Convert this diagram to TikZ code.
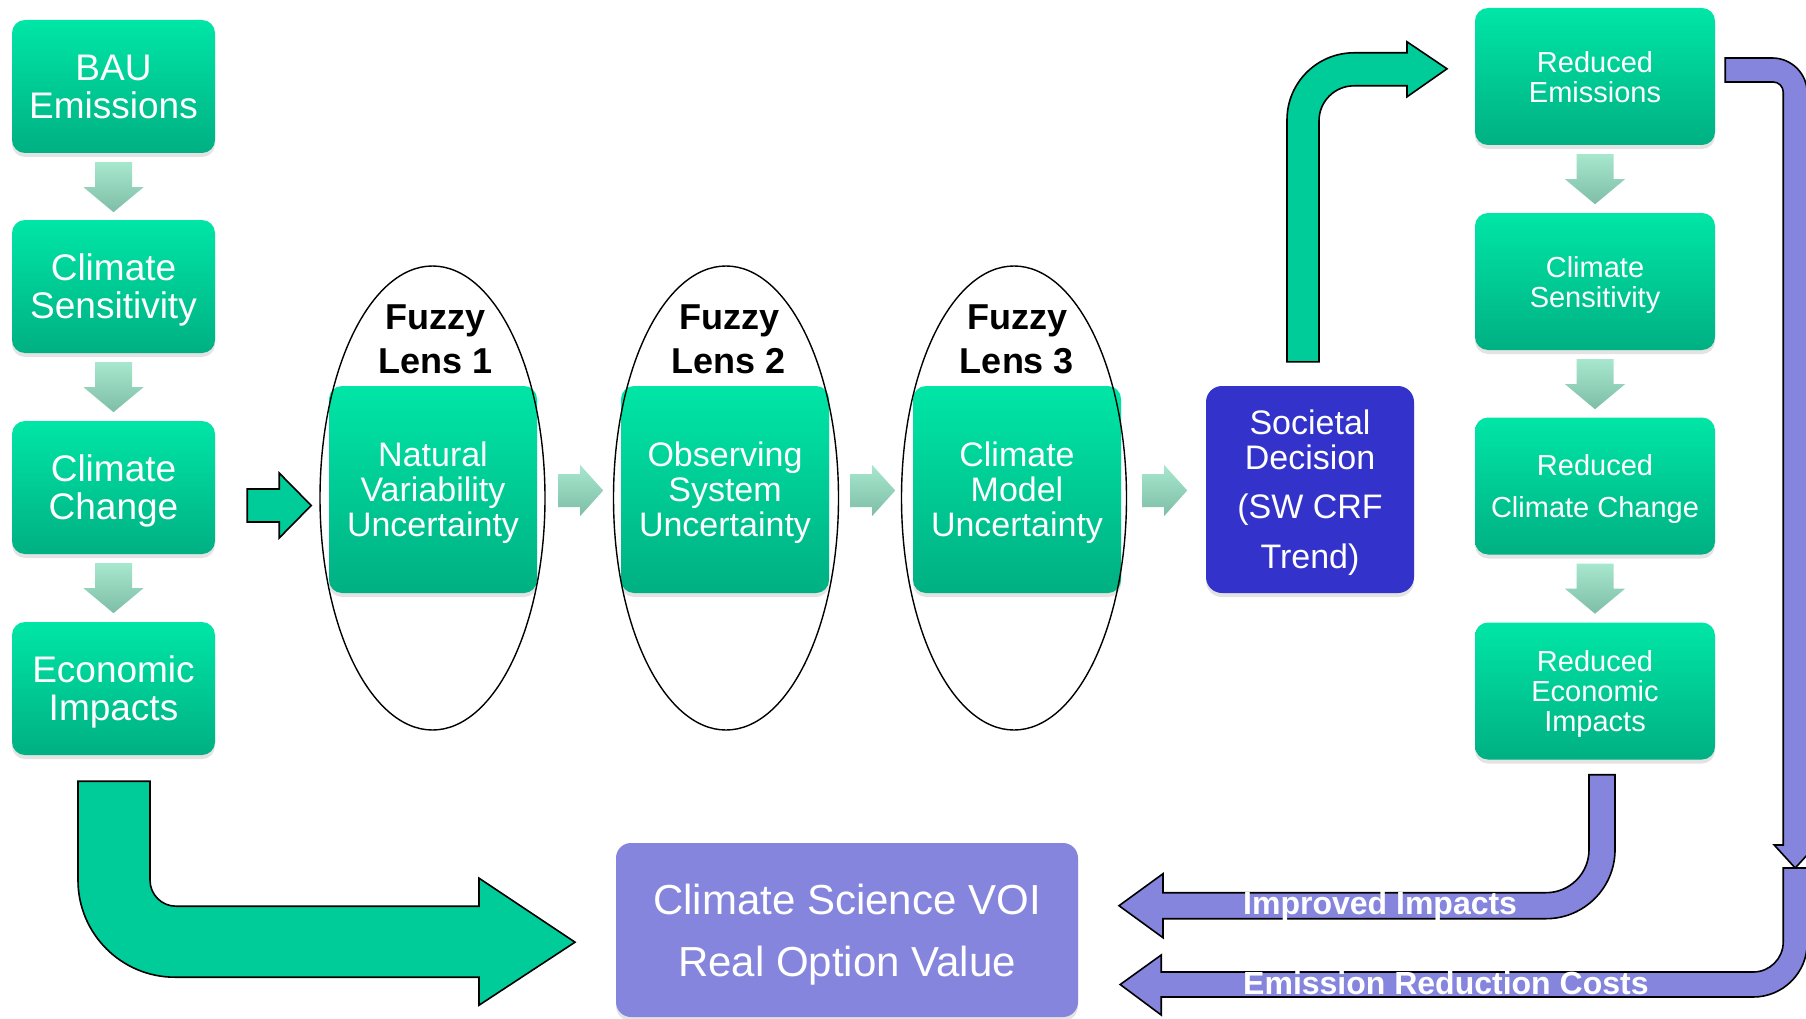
\documentclass[tikz,border=0pt]{standalone}
\usepackage{fontspec}
\setmainfont{Liberation Sans}
\usetikzlibrary{calc,shapes.geometric,shadows}
\definecolor{gtop}{RGB}{0,230,166}
\definecolor{gbot}{RGB}{0,176,130}
\definecolor{ltop}{RGB}{166,231,206}
\definecolor{lbot}{RGB}{126,190,166}
\definecolor{garrowc}{RGB}{0,204,153}
\definecolor{bluebox}{RGB}{51,51,204}
\definecolor{pcol}{RGB}{133,133,221}
\tikzset{
  gbox/.style={rectangle, rounded corners=13pt, top color=gtop, bottom color=gbot, draw=none,
    text=white, align=center, inner sep=0pt, text depth=0pt,
    drop shadow={opacity=0.22, shadow xshift=0pt, shadow yshift=-4pt}},
  bigtxt/.style={font=\fontsize{37pt}{38pt}\selectfont},
  midtxt/.style={font=\fontsize{34pt}{35pt}\selectfont},
  smalltxt/.style={font=\fontsize{29pt}{30pt}\selectfont},
  lcol/.style={gbox, bigtxt, minimum width=203pt, minimum height=133pt},
  rcol/.style={gbox, smalltxt, minimum width=240pt, minimum height=137pt},
  lensbox/.style={gbox, midtxt, minimum width=208pt, minimum height=207pt},
  lens/.style={draw=black, ellipse, line width=1.4pt, inner sep=0pt, minimum width=225pt, minimum height=464pt},
  lenstitle/.style={align=center, text depth=0pt, inner sep=0pt, font=\bfseries\fontsize{36pt}{44pt}\selectfont},
  lightarr/.style={top color=ltop, bottom color=lbot, draw=none},
  garrow/.style={fill=garrowc, draw=black, line width=1.6pt, line join=miter},
  parrow/.style={fill=pcol, draw=black, line width=1.6pt, line join=miter},
  arrlabel/.style={text=white, font=\bfseries\fontsize{32pt}{34pt}\selectfont, inner sep=0pt, anchor=base west},
  downarr/.pic={\path[lightarr] (-18.5,0) -- (18.5,0) -- (18.5,25) -- (30,25) -- (0,50) -- (-30,25) -- (-18.5,25) -- cycle;},
  rightarr/.pic={\path[lightarr] (0,-16.5) -- (22,-16.5) -- (22,-25.5) -- (45,0) -- (22,25.5) -- (22,16.5) -- (0,16.5) -- cycle;}
}
\begin{document}
\begin{tikzpicture}[x=1pt,y=-1pt]
\fill[white] (0,0) rectangle (1806,1019);
\useasboundingbox (0,0) rectangle (1806,1019);
\clip (0,0) rectangle (1806,1019);

% left column
\node[lcol] (bau) at (113.5,86.5) {BAU\\Emissions};
\node[lcol] (lcs) at (113.5,286.5) {Climate\\Sensitivity};
\node[lcol] (lcc) at (113.5,487.5) {Climate\\Change};
\node[lcol] (ei)  at (113.5,688.5) {Economic\\Impacts};
\pic at ($(bau.south)+(0,9)$) {downarr};
\pic at ($(lcs.south)+(0,9)$) {downarr};
\pic at ($(lcc.south)+(0,9)$) {downarr};

% lens boxes
\node[lensbox] (nv) at (433,489.5) {Natural\\Variability\\Uncertainty};
\node[lensbox] (os) at (725,489.5) {Observing\\System\\Uncertainty};
\node[lensbox] (cm) at (1017,489.5) {Climate\\Model\\Uncertainty};
\node[lens] (lens1) at (432.5,498) {};
\node[lens] (lens2) at (726,498) {};
\node[lens] (lens3) at (1014,498) {};
\node[lenstitle] (t1) at (435.5,339.5) {Fuzzy\\Lens 1};
\node[lenstitle] (t2) at (729,339.5) {Fuzzy\\Lens 2};
\node[lenstitle] (t3) at (1017,339.5) {Fuzzy\\Lens 3};
\pic at ($(nv.east)+(21,1)$) {rightarr};
\pic at ($(os.east)+(21,1)$) {rightarr};
\pic at ($(cm.east)+(21,1)$) {rightarr};

% societal decision
\node[gbox, midtxt, top color=bluebox, bottom color=bluebox, rounded corners=16pt,
      minimum width=208pt, minimum height=207pt] (sd) at (1310,489.5)
      {Societal\\Decision\\[14pt](SW CRF\\[15pt]Trend)};

% right column
\node[rcol] (re)  at (1595,76.5) {Reduced\\Emissions};
\node[rcol] (rcs) at (1595,281.5) {Climate\\Sensitivity};
\node[rcol] (rcc) at (1595,486) {Reduced\\[12pt]Climate Change};
\node[rcol] (rei) at (1595,691) {Reduced\\Economic\\Impacts};
\pic at ($(re.south)+(0,9)$) {downarr};
\pic at ($(rcs.south)+(0,9)$) {downarr};
\pic at ($(rcc.south)+(0,9)$) {downarr};

% bottom value box
\node[gbox, top color=pcol, bottom color=pcol, rounded corners=15pt,
      font=\fontsize{42pt}{62pt}\selectfont, minimum width=462pt, minimum height=174pt]
      (vo) at (847,930) {Climate Science VOI\\Real Option Value};

% green arrow: Climate Change -> lens 1
\begin{scope}[shift={($(lcc.east)+(32,18)$)}]
\draw[garrow] (0,-16.5) -- (32,-16.5) -- (32,-32.5) -- (64,0) -- (32,32.5) -- (32,16.5) -- (0,16.5) -- cycle;
\end{scope}

% big bent arrow: Economic Impacts -> VOI box
\begin{scope}[shift={($(ei.south)+(-113.5,-755)$)}]
\draw[garrow] (150,781) -- (78,781) [rounded corners=97pt] -- (78,977) [sharp corners]
  -- (479,977) -- (479,1005) -- (575,942) -- (479,878) -- (479,906) [rounded corners=26pt]
  -- (150,906) [sharp corners] -- (150,781) -- cycle;
\end{scope}

% bent arrow: Societal Decision -> Reduced Emissions
\begin{scope}[shift={($(sd.north)+(-1310,-386)$)}]
\draw[garrow] (1287,362) [rounded corners=67pt] -- (1287,53) [sharp corners] -- (1407,53)
  -- (1407,42) -- (1447,69) -- (1407,97) -- (1407,86) [rounded corners=35pt] -- (1319,86)
  [sharp corners] -- (1319,362) -- cycle;
\end{scope}

% purple arrow from Reduced Emissions down the right side
\begin{scope}[shift={($(re.east)+(-1715,-76.5)$)}]
\draw[parrow] (1725,58) [rounded corners=35pt] -- (1807,58) [sharp corners] -- (1807,845)
  -- (1816,845) -- (1795,868) -- (1774,845) -- (1783,845) [rounded corners=10pt] -- (1783,82)
  [sharp corners] -- (1725,82) -- cycle;
\coordinate (downtip) at (1795,868);
\end{scope}

% purple arrow: emission reduction costs -> VOI box
\begin{scope}[shift={($(downtip)+(-1795,-868)$)}]
\draw[parrow] (1807,868) [rounded corners=54pt] -- (1807,997) [sharp corners] -- (1161,997)
  -- (1161,1015) -- (1120,984.5) -- (1161,955) -- (1161,972) [rounded corners=30pt] -- (1783,972)
  [sharp corners] -- (1783,868) -- cycle;
\end{scope}

% purple arrow: improved impacts -> VOI box
\begin{scope}[shift={($(rei.south)+(-1595,-759)$)}]
\draw[parrow] (1615,774) [rounded corners=69pt] -- (1615,918) [sharp corners] -- (1163,918)
  -- (1163,937) -- (1119,905) -- (1163,873) -- (1163,892) [rounded corners=43pt] -- (1589,892)
  [sharp corners] -- (1589,774) -- cycle;
\end{scope}

\node[arrlabel] (lblimp) at (1243,914) {Improved Impacts};
\node[arrlabel] (lblcost) at (1243,994) {Emission Reduction Costs};
\end{tikzpicture}
\end{document}
